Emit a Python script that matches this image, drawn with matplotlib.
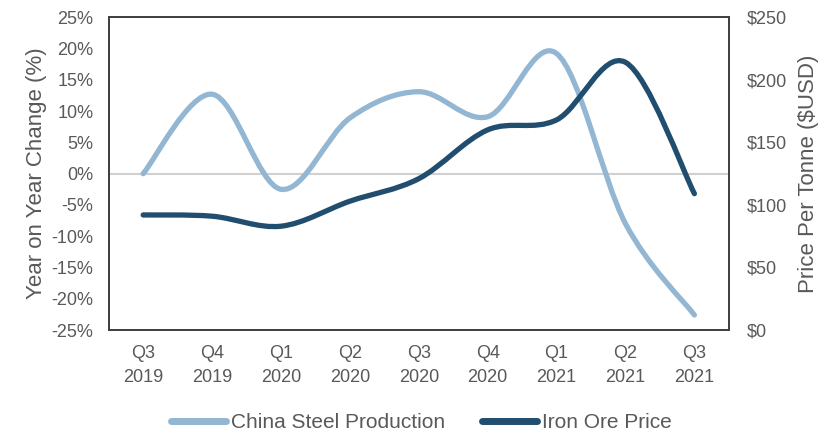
import numpy as np
import matplotlib
matplotlib.use("Agg")
import matplotlib.pyplot as plt
from matplotlib.path import Path
from matplotlib.patches import PathPatch
from matplotlib.lines import Line2D

plt.rcParams['font.family'] = ['Liberation Sans', 'DejaVu Sans']

quarters = ["Q3\n2019", "Q4\n2019", "Q1\n2020", "Q2\n2020", "Q3\n2020",
            "Q4\n2020", "Q1\n2021", "Q2\n2021", "Q3\n2021"]
steel_yoy = [0.0, 12.7, -2.5, 8.9, 13.1, 9.1, 19.2, -8.0, -22.6]
iron_ore_price = [92, 91, 83, 103, 121, 160, 168, 214, 109]

STEEL_COLOR = "#93B6D2"
ORE_COLOR = "#214D6E"
TEXT_COLOR = "#595959"
FRAME_COLOR = "#404040"


def smooth_path(xs, ys):
    """Catmull-Rom style Bezier path through the given points."""
    pts = np.column_stack([xs, ys]).astype(float)
    n = len(pts)
    verts = [pts[0]]
    codes = [Path.MOVETO]
    for i in range(n - 1):
        p0 = pts[i - 1] if i > 0 else pts[i]
        p1 = pts[i]
        p2 = pts[i + 1]
        p3 = pts[i + 2] if i + 2 < n else pts[i + 1]
        c1 = p1 + (p2 - p0) / 6.0
        c2 = p2 - (p3 - p1) / 6.0
        verts += [c1, c2, p2]
        codes += [Path.CURVE4] * 3
    return Path(verts, codes)


fig = plt.figure(figsize=(8.33, 4.32), dpi=100)
ax = fig.add_axes([0.1305, 0.236, 0.7445, 0.724])
ax2 = ax.twinx()

x = np.arange(len(quarters))

ax.axhline(0, color="#D0D0D0", lw=1.5, zorder=1)

ax.add_patch(PathPatch(smooth_path(x, steel_yoy), facecolor="none",
                       edgecolor=STEEL_COLOR, lw=3.8, capstyle="round",
                       joinstyle="round", zorder=3))
ax2.add_patch(PathPatch(smooth_path(x, iron_ore_price), facecolor="none",
                        edgecolor=ORE_COLOR, lw=3.8, capstyle="round",
                        joinstyle="round", zorder=3))

ax.set_xlim(-0.5, len(quarters) - 0.5)
ax.set_ylim(-25, 25)
ax2.set_ylim(0, 250)

ax.set_xticks(x)
ax.set_xticklabels(quarters, fontsize=13, color=TEXT_COLOR, linespacing=1.55)
ax.set_yticks(np.arange(-25, 26, 5))
ax.set_yticklabels([f"{v}%" for v in range(-25, 26, 5)], fontsize=13, color=TEXT_COLOR)
ax2.set_yticks(np.arange(0, 251, 50))
ax2.set_yticklabels([f"${v}" for v in range(0, 251, 50)], fontsize=13, color=TEXT_COLOR)

ax.tick_params(axis="both", length=0)
ax.tick_params(axis="y", pad=11)
ax.tick_params(axis="x", pad=11)
ax2.tick_params(axis="y", length=0, pad=13)

for a in (ax, ax2):
    for s in a.spines.values():
        s.set_color(FRAME_COLOR)
        s.set_linewidth(1.3)

ax.set_ylabel("Year on Year Change (%)", fontsize=16, color=TEXT_COLOR, labelpad=3)
ax2.set_ylabel("Price Per Tonne ($USD)", fontsize=16, color=TEXT_COLOR, labelpad=8)

handles = [Line2D([], [], color=STEEL_COLOR, lw=5, solid_capstyle="round"),
           Line2D([], [], color=ORE_COLOR, lw=5, solid_capstyle="round")]
fig.legend(handles, ["China Steel Production", "Iron Ore Price"],
           loc="center", bbox_to_anchor=(0.506, 0.022), ncol=2, frameon=False,
           fontsize=15, labelcolor=TEXT_COLOR, handlelength=2.6,
           handletextpad=0.25, columnspacing=1.8)

fig.savefig("out.png", dpi=100)
